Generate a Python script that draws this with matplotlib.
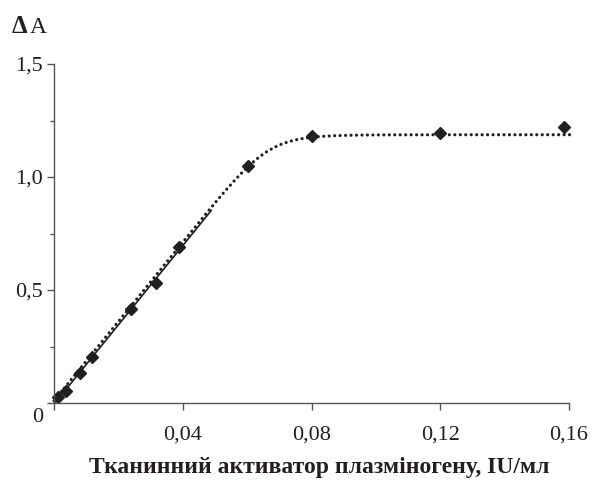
#!/usr/bin/env python3
"""Absorbance change vs tissue plasminogen activator concentration."""

import numpy as np
import matplotlib
matplotlib.use("Agg")
import matplotlib.pyplot as plt
from matplotlib.ticker import FixedLocator

tpa_conc = [0.0013, 0.0037, 0.0081, 0.0118, 0.0238, 0.0316, 0.0389,
            0.0604, 0.0800, 0.1199, 0.1585]
delta_a = [0.028, 0.054, 0.134, 0.202, 0.415, 0.530, 0.692,
           1.050, 1.181, 1.193, 1.220]

n_linear = 7          # points used for the linear trend line
linear_end = 0.049    # where the solid trend line stops
curve_end = 0.1608    # where the dotted curve stops

x_ticks = [0.04, 0.08, 0.12, 0.16]
x_labels = ["0,04", "0,08", "0,12", "0,16"]
y_ticks = [0.5, 1.0, 1.5]
y_labels = ["0,5", "1,0", "1,5"]
y_minor = [0.25, 0.75, 1.25]

INK = "#231f20"
AXIS = "#555555"

plt.rcParams["font.family"] = ["Liberation Serif", "DejaVu Serif"]

x = np.array(tpa_conc)
y = np.array(delta_a)

# linear trend over the initial range
slope, icpt = np.polyfit(x[:n_linear], y[:n_linear], 1)
xl = np.linspace(0, linear_end, 50)

# saturating trend curve: smooth minimum of linear rise and plateau
plateau = y[-3:-1].mean()
xs = np.linspace(0, curve_end, 400)
lin = slope * xs + 0.01
ys = lin / (1 + (lin / plateau) ** 12) ** (1 / 12)

fig = plt.figure(figsize=(5.95, 4.83), dpi=100)
ax = fig.add_axes([0.0908, 0.1656, 0.9563 - 0.0908, 0.8675 - 0.1656])

ax.plot(xl, slope * xl + icpt, color=INK, lw=1.2, solid_capstyle="butt")
ax.plot(xs, ys, color=INK, lw=2.3, linestyle=(0, (0.01, 1.7)),
        dash_capstyle="round", clip_on=False)
ax.plot(x, y, linestyle="none", marker="D", ms=6.5, color=INK, clip_on=False)

ax.set_xlim(0, 0.16)
ax.set_ylim(0, 1.5)
for s in ("top", "right"):
    ax.spines[s].set_visible(False)
for s in ("left", "bottom"):
    ax.spines[s].set_color(AXIS)
    ax.spines[s].set_linewidth(1.0)

ax.xaxis.set_major_locator(FixedLocator([0] + x_ticks))
ax.set_xticklabels([""] + x_labels)
ax.yaxis.set_major_locator(FixedLocator([0] + y_ticks))
ax.set_yticklabels([""] + y_labels)
ax.yaxis.set_minor_locator(FixedLocator(y_minor))
ax.tick_params(axis="x", direction="out", length=5, width=1.0, color=AXIS,
               labelsize=16, pad=11, labelcolor=INK)
ax.tick_params(axis="y", which="major", direction="out", length=5, width=1.0,
               color=AXIS, labelsize=16, pad=3, labelcolor=INK)
ax.tick_params(axis="y", which="minor", direction="out", length=3, width=1.0,
               color=AXIS)

# shared zero at the corner
fig.text(38 / 595, 1 - 418 / 483, "0", fontsize=16, color=INK,
         ha="center", va="center")

# y label: bold delta, plain A (same baseline)
fig.text(12 / 595, 1 - 33 / 483, "Δ", fontsize=18, fontweight="bold",
         color=INK, ha="left", va="baseline")
fig.text(30 / 595, 1 - 33 / 483, "A", fontsize=17, color=INK,
         ha="left", va="baseline")

fig.text(0.5 * (88 + 550) / 595, 1 - 468 / 483,
         "Тканинний активатор плазміногену, IU/мл",
         fontsize=17, fontweight="bold", color=INK, ha="center", va="center")

fig.savefig("out.png", dpi=100)
